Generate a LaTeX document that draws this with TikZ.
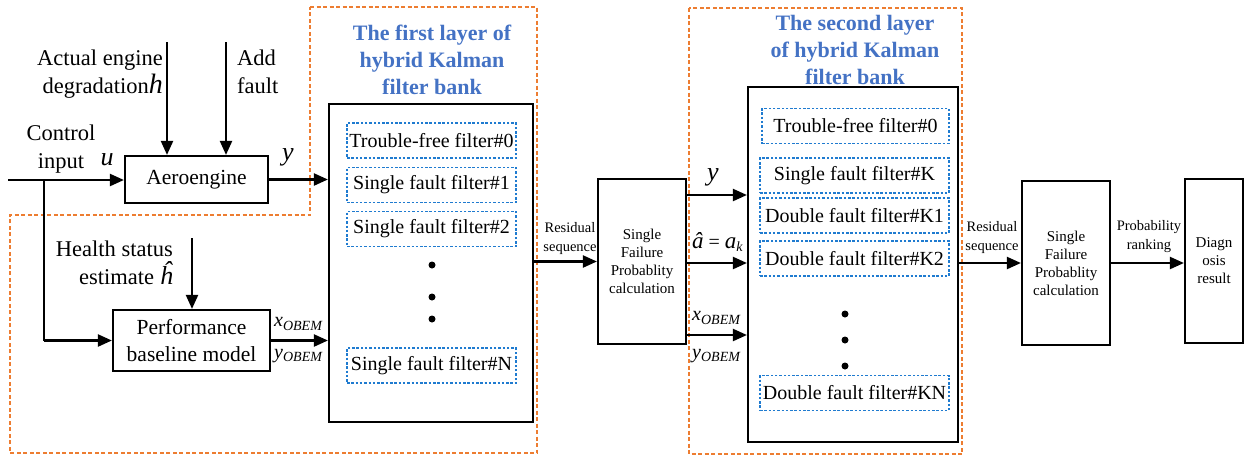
\documentclass[tikz,border=0pt]{standalone}
\usepackage{fontspec}
\setmainfont{Liberation Serif}
\usetikzlibrary{arrows.meta}
\definecolor{dorange}{HTML}{ED7D31}
\definecolor{dblue}{HTML}{1F7BD0}
\definecolor{tblue}{HTML}{4472C4}
\tikzset{
  blk/.style={draw=black,line width=2.2pt,fill=white,inner sep=0pt,align=center,font=\fontsize{21.5}{27}\selectfont},
  smblk/.style={draw=black,line width=2.2pt,inner sep=0pt,align=center,font=\fontsize{15}{18}\selectfont},
  fbox/.style={draw=dblue,line width=1.4pt,dash pattern=on 2.5pt off 1.8pt,inner sep=0pt,minimum height=35pt,font=\fontsize{20}{22}\selectfont},
  grp/.style={draw=dorange,line width=2pt,dash pattern=on 4pt off 2.5pt},
  arr/.style={line width=2.2pt,-{Triangle[length=14pt,width=12pt]}},
  ln/.style={line width=2.2pt},
  lbl/.style={inner sep=0pt,font=\fontsize{22.5}{28}\selectfont},
  sml/.style={inner sep=0pt,align=center,font=\fontsize{14.5}{19}\selectfont},
  mth/.style={inner sep=0pt,font=\fontsize{26}{26}\selectfont\itshape},
  sub/.style={inner sep=0pt,font=\fontsize{20}{20}\selectfont},
  ttl/.style={inner sep=0pt,align=center,text=tblue,font=\fontsize{22}{27}\selectfont\bfseries},
  dot/.style={circle,fill=black,inner sep=0pt,minimum size=7pt}
}
\begin{document}
\begin{tikzpicture}[x=1pt,y=-1pt]
\useasboundingbox (0,0) rectangle (1249,456);
% orange groups
\draw[grp] (310,7) -- (537,7) -- (537,453) -- (10,453) -- (10,215) -- (310,215) -- cycle;
\draw[grp] (689,8) rectangle (962,454);
% blocks
\node[blk,minimum width=143pt,minimum height=47pt] (aero) at (196.5,179.5) {Aeroengine};
\node[blk,minimum width=157pt,minimum height=61pt] (perf) at (191.5,340.5) {Performance\\baseline model};
\node[blk,minimum width=204pt,minimum height=318pt] (bank1) at (431,263) {};
\node[blk,minimum width=210pt,minimum height=355pt] (bank2) at (853,264.5) {};
\node[smblk,minimum width=88pt,minimum height=165pt] (sfp1) at (642,261.5) {Single\\Failure\\Probablity\\calculation};
\node[smblk,minimum width=88pt,minimum height=164pt] (sfp2) at (1066,263) {Single\\Failure\\Probablity\\calculation};
\node[smblk,minimum width=58pt,minimum height=164pt] (diag) at (1214,261) {Diagn\\osis\\result};
% filter boxes layer 1
\node[fbox,minimum width=169pt] (f10) at (431.5,140.5) {Trouble-free filter\#0};
\node[fbox,minimum width=169pt] (f11) at (431.5,185) {Single fault filter\#1};
\node[fbox,minimum width=169pt] (f12) at (431.5,229) {Single fault filter\#2};
\node[fbox,minimum width=169pt] (f1n) at (431.5,365.5) {Single fault filter\#N};
\node[dot] (d11) at (432,265) {};
\node[dot] (d12) at (432,297) {};
\node[dot] (d13) at (432,319) {};
% filter boxes layer 2
\node[fbox,minimum width=187pt] (f20) at (855.5,126) {Trouble-free filter\#0};
\node[fbox,minimum width=189pt] (f2k) at (854.5,175.5) {Single fault filter\#K};
\node[fbox,minimum width=189pt] (f2k1) at (854.5,215.5) {Double fault filter\#K1};
\node[fbox,minimum width=189pt] (f2k2) at (854.5,258.5) {Double fault filter\#K2};
\node[fbox,minimum width=189pt] (f2kn) at (854.5,393) {Double fault filter\#KN};
\node[dot] (d21) at (845,314) {};
\node[dot] (d22) at (845,340) {};
\node[dot] (d23) at (845,366) {};
% titles
\node[ttl] (t1) at (432,60) {The first layer of\\hybrid Kalman\\filter bank};
\node[ttl] (t2) at (855,50) {The second layer\\of hybrid Kalman\\filter bank};
% inputs
\coordinate (cin) at (8,180);
\coordinate (br) at (44,180);
\coordinate (degtop) at (167,42);
\coordinate (addtop) at (226,42);
\coordinate (hstop) at (192,238);
\draw[arr] (cin) -- (aero.west |- cin);
\draw[ln] (br) -- (br |- perf.west);
\draw[arr] (br |- perf.west) -- (perf.west);
\draw[arr] (degtop) -- (degtop |- aero.north);
\draw[arr] (addtop) -- (addtop |- aero.north);
\draw[arr] (hstop) -- (hstop |- perf.north);
\draw[arr] (aero.east) -- (bank1.west |- aero.east);
\draw[arr] (perf.east) -- (bank1.west |- perf.east);
\draw[arr] (bank1.east |- sfp1.west) -- (sfp1.west);
\coordinate (o1) at (686,195);
\coordinate (o2) at (686,263);
\coordinate (o3) at (686,335);
\draw[arr] (o1) -- (bank2.west |- o1);
\draw[arr] (o2) -- (bank2.west |- o2);
\draw[arr] (o3) -- (bank2.west |- o3);
\draw[arr] (bank2.east |- sfp2.west) -- (sfp2.west);
\draw[arr] (sfp2.east) -- (diag.west |- sfp2.east);
% labels
\node[lbl,align=right,anchor=east] (ldeg) at (163,74) {Actual engine\\degradation{\fontsize{28}{28}\selectfont\itshape h}};
\node[lbl,align=left,anchor=west] (ladd) at (237,72) {Add\\fault};
\node[lbl,align=center] (lctl) at (61,149) {Control\\input};
\node[mth] (lu) at (107,160) {u};
\node[mth] (ly1) at (288,157) {y};
\node[lbl,align=right,anchor=east] (lhs) at (173,263) {Health status\\estimate {\fontsize{26}{28}\selectfont\itshape ĥ}};
\node[sub,anchor=west] (lx1) at (274,324) {\textit{x}\textsubscript{\textit{OBEM}}};
\node[sub,anchor=west] (ly1b) at (274,356) {\textit{y}\textsubscript{\textit{OBEM}}};
\node[sml] (lres1) at (570,239) {Residual\\sequence};
\node[mth] (ly2) at (713,177) {y};
\node[sub,anchor=west] (la2) at (692,242) {{\fontsize{23}{23}\selectfont\textit{â}} = {\fontsize{23}{23}\selectfont\textit{a}}\textsubscript{\textit{k}}};
\node[sub,anchor=west] (lx2) at (692,318) {\textit{x}\textsubscript{\textit{OBEM}}};
\node[sub,anchor=west] (ly2b) at (692,356) {\textit{y}\textsubscript{\textit{OBEM}}};
\node[sml] (lres2) at (992,238) {Residual\\sequence};
\node[sml] (lprob) at (1149,237) {Probability\\ranking};
\end{tikzpicture}
\end{document}
